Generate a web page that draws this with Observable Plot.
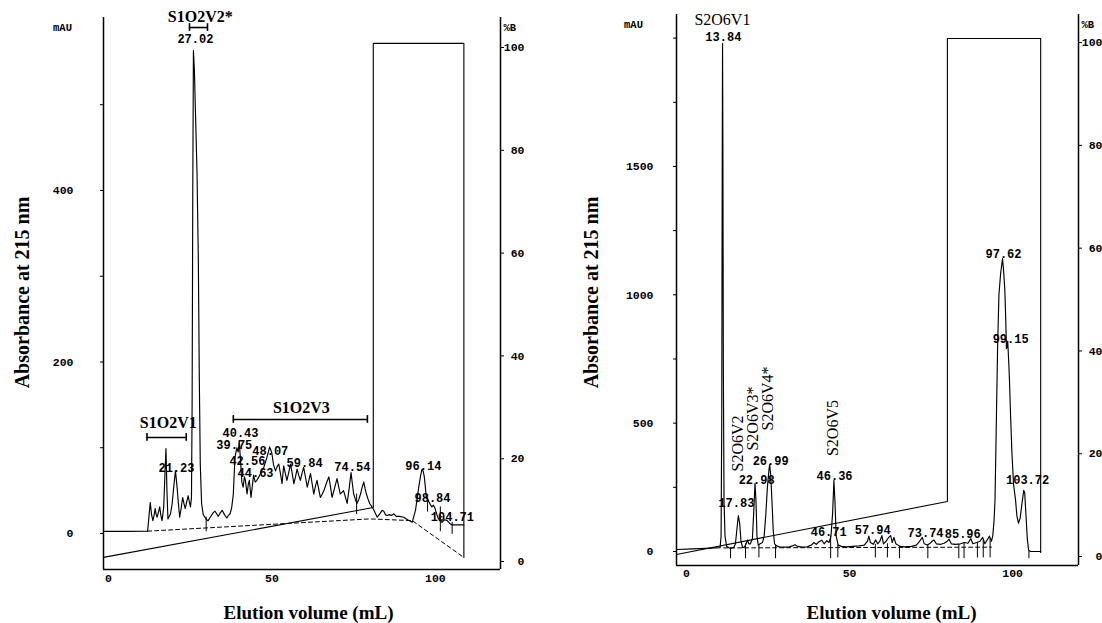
<!DOCTYPE html>
<html><head><meta charset="utf-8">
<script src="https://cdn.jsdelivr.net/npm/d3@7"></script>
<script src="https://cdn.jsdelivr.net/npm/@observablehq/plot@0.6"></script>
<style>
html,body{margin:0;padding:0;background:#fff;}
#wrap{display:flex;width:1102px;height:623px;overflow:hidden;}
svg{overflow:visible;}
</style></head><body><div id="wrap"></div>
<script>
// ---------- shared ticks / titles ----------
const xTicks = [0, 50, 100];
const pctTicks = [0, 20, 40, 60, 80, 100];
const xTitle = "Elution volume (mL)";
const yTitle = "Absorbance at 215 nm";

// ---------- LEFT panel (S1O2) ----------
const leftAbsTicks = [0, 200, 400];
const leftAbsMinor = [0, 100, 200, 300, 400, 500];
const leftVol = [-1.5,5,12.0,12.4,12.8,13.2,13.6,14.0,14.3,14.6,14.9,15.3,15.7,16.0,16.4,16.9,17.3,17.6,17.9,18.2,18.6,19.0,19.5,20.0,20.5,20.8,21.0,21.4,21.8,22.2,22.7,23.1,23.5,24.0,24.4,24.8,25.1,25.4,25.6,25.8,26.0,26.3,26.7,27.1,27.5,27.8,28.1,28.5,29.0,29.5,30.0,30.5,31.0,31.5,32.0,32.6,33.1,33.6,34.2,34.8,35.5,36.2,36.7,37.2,37.7,38.2,38.7,39.3,39.7,40.0,40.4,40.8,41.2,41.6,41.9,42.4,42.8,43.1,43.6,44.0,44.4,44.9,45.4,46.0,46.5,47.0,47.5,48.0,48.5,49.0,49.3,49.7,50.0,50.5,51.1,51.6,52.1,52.6,53.1,53.6,54.1,54.6,55.2,55.7,56.2,56.7,57.2,57.7,58.2,58.7,59.2,59.7,60.3,60.8,61.3,61.8,62.3,62.8,63.3,63.8,64.3,64.8,65.4,65.9,66.6,67.4,67.9,68.4,69.1,69.9,70.4,70.9,71.4,71.9,72.5,73.0,73.6,74.2,74.6,75.0,75.5,76.0,76.6,77.1,77.6,78.1,78.5,78.9,79.4,79.9,80.6,81.1,81.6,82.2,82.8,83.2,83.7,84.2,84.7,85.2,86.0,86.5,87.3,88.0,89.0,90.3,91.5,92.9,93.4,93.9,94.4,94.9,95.4,95.9,96.3,96.6,96.9,97.2,97.6,97.9,98.4,98.9,99.4,99.9,100.3,100.7,101.3,102.0,102.8,103.6,104.3,105.1,108.7];
const leftAbs = [2.5,2.5,2.7,20,36,22,15,22,29,22,19,25,31,22,15,30,70,99,50,17,20,23,35,55,73,62,54,35,19,28,42,35,29,38,44,36,31,42,150,400,563,540,480,420,320,180,80,35,22,19,16,15,18,21,24,26,23,20,24,27,22,18,21,23,30,46,89,100,95,108,85,60,54,66,62,46,58,62,42,55,68,60,62,66,70,74,77,83,89,96,101,97,93,80,73,78,81,70,58,79,70,62,72,81,70,58,66,75,68,62,70,77,65,54,62,70,58,46,55,62,52,42,46,50,58,66,55,42,52,64,55,46,48,50,42,35,52,71,58,46,40,35,40,46,54,60,52,46,40,35,31,28,24,19,22,24,27,26,22,21,22,21,23,20,20,19,16,13,20,27,40,54,66,75,72,66,55,42,40,38,34,31,33,29,24,19,15,13,16,15,12,10,10];
const leftGradVol = [-1.5, 81, 81, 108.7, 108.7];
const leftGradPct = [0.8, 10.5, 100.8, 100.8, 0.8];
const leftBaseVol = [12.0, 80, 92.9, 108.7];
const leftBaseAbs = [2.7, 17, 15, -28];
const leftMarkVol = [29.9, 75.9, 97.6, 101.5, 105.1];
const leftMarkTop = [19, 46, 42, 31, 13];
const leftMarkBottom = [2, 22, 25, 2, -1];
const leftPeakText = ["27.02","40.43","39.75","48.07","42.56","44.63","59.84","74.54","21.23","96.14","98.84","104.71"];
const leftPeakVol = [26.6, 40.4, 38.5, 49.5, 42.5, 45.0, 60.0, 74.6, 20.8, 96.3, 99.1, 105.2];
const leftPeakAbs = [576, 117, 103, 96, 84, 70, 82, 77, 76, 79, 41, 19];
const leftFracText = ["S1O2V2*", "S1O2V1", "S1O2V3"];
const leftFracVol = [28.1, 18.3, 59.0];
const leftFracAbs = [602, 129, 147];
const leftBracketFrom = [24.8, 11.8, 38.2];
const leftBracketTo = [30.3, 23.8, 79.2];
const leftBracketAbs = [590, 112, 133];

// ---------- RIGHT panel (S2O6) ----------
const rightAbsTicks = [0, 500, 1000, 1500];
const rightAbsMinor = [0, 250, 500, 750, 1000, 1250, 1500, 1750, 2000];
const rightVol = [-3.07,2,6,9,10.3,10.6,10.8,10.95,11.05,11.15,11.3,11.5,11.8,12.3,13.0,13.5,14.5,15.0,15.4,15.9,16.3,16.7,17.2,17.8,18.3,18.7,19.1,19.6,20.2,20.6,21.0,21.3,21.6,22.0,22.6,23.3,23.8,24.3,24.8,25.3,25.5,25.8,26.2,26.6,27.0,27.6,28.5,30,31.5,32.5,33.3,34,35.5,37,38.3,39.0,39.8,40.6,41.5,42.2,43.0,43.7,44.3,44.8,45.2,45.5,45.9,46.5,47.5,49,51,53,54.5,55.5,55.9,56.4,57.3,58.0,58.6,59.3,59.9,60.4,61.2,62.0,62.6,63.1,63.6,64.2,65.5,67,69,70.5,71.5,72.3,72.9,73.8,74.5,75.3,75.9,76.6,78,79,80.0,80.5,81.2,82.5,84,85.3,86.3,87.2,87.8,89.0,90.0,90.8,91.5,92.2,92.9,93.5,93.9,94.3,94.6,95.0,95.4,95.8,96.3,96.9,97.2,97.6,97.9,98.1,98.3,98.5,98.8,99.0,99.4,99.8,100.3,100.9,101.3,101.8,102.3,102.9,103.4,103.7,104.1,104.5,104.9,105.5,108.6];
const rightAbs = [8,10,12,14,15,60,500,1500,1979,1600,700,200,60,20,15,12,16,30,80,140,110,40,15,18,30,45,30,30,50,150,266,200,60,25,30,35,60,140,250,320,339,300,200,80,30,22,18,17,18,22,26,20,17,18,25,35,28,38,44,30,42,35,60,150,277,200,60,25,20,18,20,22,25,40,60,35,28,45,30,40,62,30,40,55,62,35,55,30,20,18,20,25,40,55,30,25,30,40,45,30,28,32,40,48,30,28,30,35,32,50,30,35,40,55,30,45,60,40,60,120,200,500,800,1000,1080,1141,1100,1020,900,790,800,820,740,680,520,380,260,200,140,110,130,190,238,230,140,50,5,0,0];
const rightGradVol = [-3.07, 80, 80, 108.6, 108.6];
const rightGradPct = [0.4, 10.7, 100.8, 100.8, 0.8];
const rightBaseVol = [11.4, 93.5];
const rightBaseAbs = [14, 17];
const rightMarkVol = [13.5,18.1,22.2,27.3,44.2,46.4,57.9,61.6,65.3,74.0,83.5,85.1,89.2,91.0,93.1,105.0];
const rightMarkTop = [15,30,25,22,60,25,28,30,20,25,28,35,35,45,50,0];
const rightMarkBottom = [-28,-28,-25,-28,-28,-25,-25,-25,-28,-28,-28,-28,-25,-25,-25,-28];
const rightPeakText = ["13.84","17.83","22.98","26.99","46.36","46.71","57.94","73.74","85.96","97.62","99.15","103.72"];
const rightPeakVol = [11.3, 15.3, 21.5, 25.8, 45.4, 43.6, 57.1, 73.3, 84.7, 97.2, 99.4, 104.6];
const rightPeakAbs = [2002, 187, 277, 351, 292, 74, 82, 70, 66, 1157, 826, 277];
const rightFracText = ["S2O6V1"];
const rightFracVol = [11.0];
const rightFracAbs = [2072];
const rightVertText = ["S2O6V2", "S2O6V3*", "S2O6V4*", "S2O6V5"];
const rightVertVol = [15.8, 20.4, 25.0, 44.9];
const rightVertAbs = [421, 518, 596, 481];

// ---------- drawing ----------
const serif = "Liberation Serif, 'Times New Roman', serif";
const mono = "Liberation Mono, 'Courier New', monospace";

function makePanel(p) {
  const rows = (xs, ys) => xs.map((v, i) => ({v, a: ys[i]}));
  const chrom = rows(p.vol, p.abs);
  const grad = rows(p.gradVol, p.gradPct.map(p.pctToAbs));
  const base = rows(p.baseVol, p.baseAbs);
  const marksD = p.markVol.map((v, i) => ({v, top: p.markTop[i], bottom: p.markBottom[i]}));
  const peaks = p.peakText.map((t, i) => ({t, v: p.peakVol[i], a: p.peakAbs[i]}));
  const fracs = p.fracText.map((t, i) => ({t, v: p.fracVol[i], a: p.fracAbs[i]}));
  const brackets = p.bracketFrom.map((f, i) => ({x1: f, x2: p.bracketTo[i], a: p.bracketAbs[i]}));
  const bracketEnds = brackets.flatMap(b => [{v: b.x1, a: b.a}, {v: b.x2, a: b.a}]);
  const verts = p.vertText.map((t, i) => ({t, v: p.vertVol[i], a: p.vertAbs[i]}));
  const [x0, x1] = p.xDomain, [y0, y1] = p.yDomain;
  const eh = p.endHalf;
  return Plot.plot({
    width: 551, height: 623,
    marginLeft: p.ml, marginRight: p.mr, marginTop: p.mt, marginBottom: p.mb,
    x: {domain: p.xDomain, axis: null},
    y: {domain: p.yDomain, axis: null},
    style: {background: "#fff", color: "#000", fontFamily: mono, overflow: "visible"},
    marks: [
      Plot.axisX({ticks: xTicks, tickSize: 0, tickPadding: p.xPad, label: null, fontFamily: mono, fontWeight: "bold", fontSize: 11.5}),
      Plot.axisY({anchor: "left", ticks: p.absMinor, tickSize: 3, tickPadding: p.yPad, label: null,
        tickFormat: d => p.absTicks.includes(d) ? String(d) : "", fontFamily: mono, fontWeight: "bold", fontSize: 11.5}),
      Plot.axisY({anchor: "right", ticks: pctTicks.map(p.pctToAbs), tickSize: 3, tickPadding: 21, textAnchor: "end", label: null,
        tickFormat: d => String(Math.round(p.absToPct(d))), fontFamily: mono, fontWeight: "bold", fontSize: 11.5}),
      Plot.ruleX([x0, x1], {strokeWidth: 1.5}),
      Plot.ruleY([y0], {x1: x0, x2: x1, strokeWidth: 1.5}),
      // unit labels
      Plot.text(["mAU"], {x: x0, y: p.unitAbs, text: d => d, dx: p.mauDx, fontSize: 10.5, fontWeight: "bold", fontFamily: mono}),
      Plot.text(["%B"], {x: x1, y: p.unitAbs, text: d => d, dx: 3, textAnchor: "start", fontSize: 10.5, fontWeight: "bold", fontFamily: mono}),
      // titles
      Plot.text([xTitle], {frameAnchor: "bottom", lineAnchor: "middle", textAnchor: "middle", text: d => d, dy: p.xTitleDy, dx: p.xTitleDx,
        fontFamily: serif, fontWeight: "bold", fontSize: 19}),
      Plot.text([yTitle], {frameAnchor: "left", lineAnchor: "middle", textAnchor: "middle", rotate: -90, text: d => d, dx: p.yTitleDx, dy: p.yTitleDy,
        fontFamily: serif, fontWeight: "bold", fontSize: 20}),
      // annotations
      Plot.text(peaks, {x: "v", y: "a", text: "t", fontFamily: mono, fontWeight: "bold", fontSize: 12}),
      Plot.text(fracs, {x: "v", y: "a", text: "t", fontFamily: serif, fontWeight: p.fracWeight, fontSize: 16}),
      Plot.text(verts, {x: "v", y: "a", text: "t", rotate: -90, fontFamily: serif, fontSize: 16}),
      Plot.ruleY(brackets, {y: "a", x1: "x1", x2: "x2", strokeWidth: 1.6}),
      Plot.ruleX(bracketEnds, {x: "v", y1: d => d.a - eh, y2: d => d.a + eh, strokeWidth: 1.6}),
      // traces
      Plot.line(grad, {x: "v", y: "a", strokeWidth: 1.1}),
      Plot.line(base, {x: "v", y: "a", strokeWidth: 1, strokeDasharray: "4,3"}),
      Plot.ruleX(marksD, {x: "v", y1: "bottom", y2: "top", strokeWidth: 1}),
      Plot.line(chrom, {x: "v", y: "a", strokeWidth: 1.15})
    ]
  });
}

const left = makePanel({
  ml: 103, mr: 51, mt: 17, mb: 54,
  xDomain: [-1.5, 119.9], yDomain: [-42, 601.7],
  pctToAbs: p => -32.7 + 5.994 * p, absToPct: a => (a + 32.7) / 5.994,
  absTicks: leftAbsTicks, absMinor: leftAbsMinor,
  xPad: 4, yPad: 27, unitAbs: 590, mauDx: -41,
  xTitleDy: 43, xTitleDx: 6.5, yTitleDx: -81, yTitleDy: -1,
  vol: leftVol, abs: leftAbs,
  gradVol: leftGradVol, gradPct: leftGradPct,
  baseVol: leftBaseVol, baseAbs: leftBaseAbs,
  markVol: leftMarkVol, markTop: leftMarkTop, markBottom: leftMarkBottom,
  peakText: leftPeakText, peakVol: leftPeakVol, peakAbs: leftPeakAbs,
  fracText: leftFracText, fracVol: leftFracVol, fracAbs: leftFracAbs, fracWeight: "bold",
  bracketFrom: leftBracketFrom, bracketTo: leftBracketTo, bracketAbs: leftBracketAbs, endHalf: 4.5,
  vertText: [], vertVol: [], vertAbs: []
});

const right = makePanel({
  ml: 125, mr: 24, mt: 14, mb: 58,
  xDomain: [-3.07, 120.2], yDomain: [-54.5, 2092],
  pctToAbs: p => -19.5 + 20.02 * p, absToPct: a => (a + 19.5) / 20.02,
  absTicks: rightAbsTicks, absMinor: rightAbsMinor,
  xPad: 3, yPad: 20, unitAbs: 2053, mauDx: -43,
  xTitleDy: 47, xTitleDx: 14, yTitleDx: -85, yTitleDy: 2.5,
  vol: rightVol, abs: rightAbs,
  gradVol: rightGradVol, gradPct: rightGradPct,
  baseVol: rightBaseVol, baseAbs: rightBaseAbs,
  markVol: rightMarkVol, markTop: rightMarkTop, markBottom: rightMarkBottom,
  peakText: rightPeakText, peakVol: rightPeakVol, peakAbs: rightPeakAbs,
  fracText: rightFracText, fracVol: rightFracVol, fracAbs: rightFracAbs, fracWeight: "normal",
  bracketFrom: [], bracketTo: [], bracketAbs: [], endHalf: 15,
  vertText: rightVertText, vertVol: rightVertVol, vertAbs: rightVertAbs
});

const wrap = document.getElementById("wrap");
wrap.appendChild(left);
wrap.appendChild(right);
</script></body></html>
